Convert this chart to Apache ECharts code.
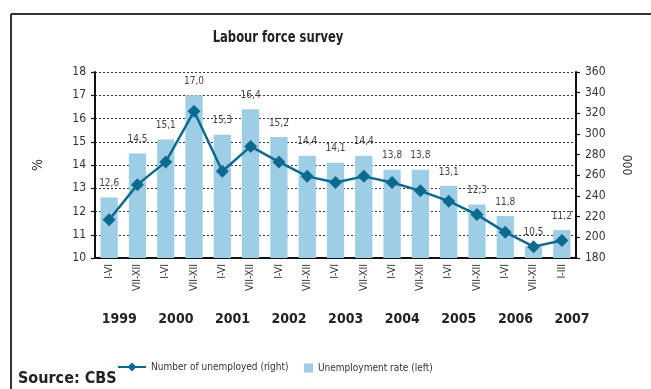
<!DOCTYPE html>
<html>
<head>
<meta charset="utf-8">
<script src="https://cdn.jsdelivr.net/npm/echarts@6/dist/echarts.min.js"></script>
<style>
  html, body { margin: 0; padding: 0; background: #fff; }
  #chart { width: 651px; height: 389px; }
</style>
</head>
<body>
<div id="chart"></div>
<script>
// Half-year periods (2007 covers the first quarter only)
const periods = ['I-VI','VII-XII','I-VI','VII-XII','I-VI','VII-XII','I-VI','VII-XII',
                 'I-VI','VII-XII','I-VI','VII-XII','I-VI','VII-XII','I-VI','VII-XII','I-III'];
const years = ['1999','2000','2001','2002','2003','2004','2005','2006','2007'];
// Unemployment rate, % (left axis)
const rate = [12.6, 14.5, 15.1, 17.0, 15.3, 16.4, 15.2, 14.4, 14.1, 14.4, 13.8, 13.8, 13.1, 12.3, 11.8, 10.5, 11.2];
// Number of unemployed, thousands (right axis)
const unemployed = [217, 251, 273, 322, 264, 288, 273, 259, 253, 259, 253, 245, 235, 222, 205, 191, 197];

const FONT = '"DejaVu Sans Condensed", "DejaVu Sans", sans-serif';
const BOLD = 'bold {s}px "DejaVu Sans Condensed", "DejaVu Sans", sans-serif';
const BAR_COLOR = '#9ecde6';
const LINE_COLOR = '#0c6a8e';
const legendText = { fontFamily: FONT, fontSize: 10, color: '#333' };
const chart = echarts.init(document.getElementById('chart'));

chart.setOption({
  animation: false,
  backgroundColor: '#fff',
  textStyle: { fontFamily: FONT },
  grid: { left: 95, right: 75, top: 72, bottom: 131 },
  legend: [
    {
      left: 117, top: 362, padding: 0,
      itemWidth: 28, itemHeight: 11,
      textStyle: legendText,
      data: ['Number of unemployed (right)']
    },
    {
      left: 304, top: 363, padding: 0,
      itemWidth: 9, itemHeight: 9,
      textStyle: legendText,
      data: [{ name: 'Unemployment rate (left)', icon: 'rect' }]
    }
  ],
  xAxis: {
    type: 'category',
    data: periods,
    axisLine: { lineStyle: { color: '#111', width: 2 } },
    axisTick: { alignWithLabel: false, length: 4, lineStyle: { color: '#111', width: 1.2 } },
    axisLabel: { rotate: 90, fontSize: 10.5, color: '#333', margin: 6, fontFamily: FONT }
  },
  yAxis: [
    {
      type: 'value', min: 10, max: 18, interval: 1,
      name: '%', nameLocation: 'middle', nameGap: 50, nameRotate: 90,
      nameTextStyle: { fontSize: 14, color: '#333', fontFamily: FONT },
      axisLine: { show: true, lineStyle: { color: '#111', width: 2 } },
      axisTick: { show: true, length: 4, lineStyle: { color: '#111', width: 1.2 } },
      axisLabel: { fontSize: 12, color: '#333', margin: 9 },
      splitLine: { show: true, lineStyle: { color: '#333', type: [2, 2], width: 1 } }
    },
    {
      type: 'value', min: 180, max: 360, interval: 20,
      name: '000', nameLocation: 'middle', nameGap: 44, nameRotate: -90,
      nameTextStyle: { fontSize: 12, color: '#333', fontFamily: FONT },
      axisLine: { show: true, lineStyle: { color: '#111', width: 2 } },
      axisTick: { show: true, length: 4, lineStyle: { color: '#111', width: 1.2 } },
      axisLabel: { fontSize: 12, color: '#333', margin: 9 },
      splitLine: { show: false }
    }
  ],
  series: [
    {
      name: 'Unemployment rate (left)',
      type: 'bar', yAxisIndex: 0,
      data: rate,
      barWidth: '61%',
      itemStyle: { color: BAR_COLOR },
      label: {
        show: true, position: 'top', distance: 9,
        fontSize: 10, color: '#444', fontFamily: FONT,
        formatter: p => p.value.toFixed(1).replace('.', ',')
      },
      z: 2
    },
    {
      name: 'Number of unemployed (right)',
      type: 'line', yAxisIndex: 1,
      data: unemployed,
      symbol: 'diamond', symbolSize: 13,
      lineStyle: { color: LINE_COLOR, width: 2.5 },
      itemStyle: { color: LINE_COLOR },
      z: 3
    }
  ]
});

// Year labels under each pair of half-year periods, placed from the category axis
const p0 = chart.convertToPixel({ xAxisIndex: 0 }, 0);
const p1 = chart.convertToPixel({ xAxisIndex: 0 }, 1);
const step = p1 - p0;
const yearTexts = years.map((y, i) => ({
  type: 'text',
  x: p0 + (2 * i + 0.5) * step - 4,
  y: 319,
  style: {
    text: y, textAlign: 'center', textVerticalAlign: 'middle',
    font: BOLD.replace('{s}', 14), fill: '#222'
  }
}));

chart.setOption({
  graphic: [
    // frame
    { type: 'line', shape: { x1: 11, y1: 14, x2: 651, y2: 14 }, style: { stroke: '#333', lineWidth: 2 } },
    { type: 'line', shape: { x1: 11, y1: 14, x2: 11, y2: 389 }, style: { stroke: '#333', lineWidth: 2 } },
    // title, horizontally compressed
    {
      type: 'text', x: 278, y: 38, scaleX: 0.78,
      style: { text: 'Labour force survey', textAlign: 'center', textVerticalAlign: 'middle',
               font: BOLD.replace('{s}', 16.5), fill: '#222' }
    },
    {
      type: 'text', x: 18, y: 379,
      style: { text: 'Source: CBS', textVerticalAlign: 'middle',
               font: BOLD.replace('{s}', 16), fill: '#222' }
    }
  ].concat(yearTexts)
});
</script>
</body>
</html>
